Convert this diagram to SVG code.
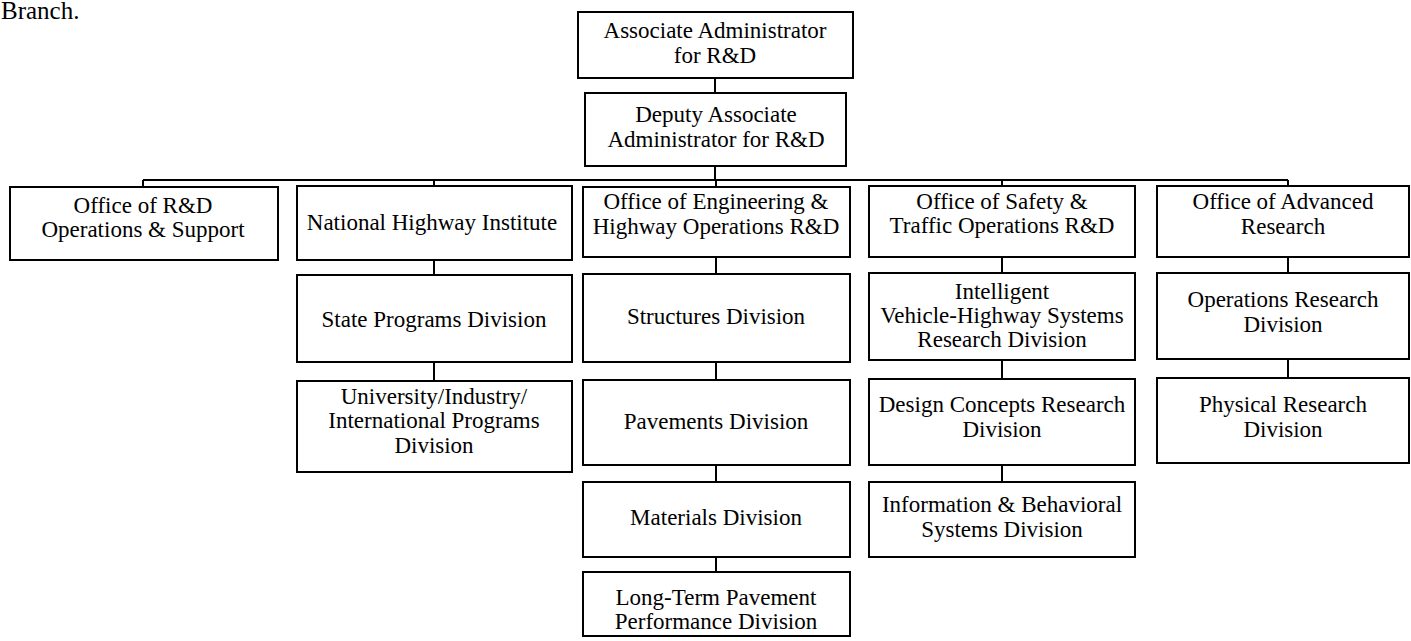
<svg xmlns="http://www.w3.org/2000/svg" width="1411" height="641" viewBox="0 0 1411 641">
  <style>
    .box { fill: #ffffff; stroke: #000000; stroke-width: 2; }
    .line { fill: none; stroke: #000000; stroke-width: 2; }
    text { font-family: "Liberation Serif", "Times New Roman", serif; font-size: 23px; fill: #000000; text-anchor: middle; }
    .body { font-size: 25px; text-anchor: start; }
  </style>
  <rect x="0" y="0" width="1411" height="641" fill="#ffffff"/>

  <text class="body" x="1" y="19">Branch.</text>

  <!-- connectors -->
  <g id="connectors">
    <path class="line" d="M715 78 V93 M715 166 V180 M143 180 H1288 M143 180 V187 M434 180 V186 M716 180 V187 M1002 180 V186 M1288 180 V186"/>
    <path class="line" d="M434 260 V275 M434 362 V381"/>
    <path class="line" d="M716 257 V274 M716 362 V380 M716 465 V482 M716 557 V572"/>
    <path class="line" d="M1002 257 V273 M1002 360 V379 M1002 465 V482"/>
    <path class="line" d="M1288 257 V273 M1288 359 V378"/>
  </g>

  <!-- top -->
  <g id="assoc-admin">
    <rect class="box" x="578" y="12" width="275" height="66"/>
    <text x="715" y="38">Associate Administrator</text>
    <text x="715" y="63">for R&amp;D</text>
  </g>
  <g id="deputy-admin">
    <rect class="box" x="585" y="93" width="261" height="73"/>
    <text x="716" y="122">Deputy Associate</text>
    <text x="716" y="147">Administrator for R&amp;D</text>
  </g>

  <!-- offices -->
  <g id="office-ops-support">
    <rect class="box" x="10" y="187" width="268" height="73"/>
    <text x="143" y="213">Office of R&amp;D</text>
    <text x="143" y="237">Operations &amp; Support</text>
  </g>
  <g id="nhi">
    <rect class="box" x="297" y="186" width="275" height="74"/>
    <text x="432" y="230">National Highway Institute</text>
  </g>
  <g id="office-engineering">
    <rect class="box" x="583" y="187" width="267" height="70"/>
    <text x="716" y="209">Office of Engineering &amp;</text>
    <text x="716" y="234">Highway Operations R&amp;D</text>
  </g>
  <g id="office-safety">
    <rect class="box" x="869" y="186" width="266" height="71"/>
    <text x="1002" y="209">Office of Safety &amp;</text>
    <text x="1002" y="233">Traffic Operations R&amp;D</text>
  </g>
  <g id="office-advanced">
    <rect class="box" x="1157" y="186" width="252" height="71"/>
    <text x="1283" y="209">Office of Advanced</text>
    <text x="1283" y="234">Research</text>
  </g>

  <!-- NHI column -->
  <g id="state-programs">
    <rect class="box" x="297" y="275" width="275" height="87"/>
    <text x="434" y="327">State Programs Division</text>
  </g>
  <g id="university-programs">
    <rect class="box" x="297" y="381" width="275" height="91"/>
    <text x="434" y="404">University/Industry/</text>
    <text x="434" y="428">International Programs</text>
    <text x="434" y="453">Division</text>
  </g>

  <!-- engineering column -->
  <g id="structures">
    <rect class="box" x="583" y="274" width="267" height="88"/>
    <text x="716" y="324">Structures Division</text>
  </g>
  <g id="pavements">
    <rect class="box" x="583" y="380" width="267" height="85"/>
    <text x="716" y="429">Pavements Division</text>
  </g>
  <g id="materials">
    <rect class="box" x="583" y="482" width="267" height="75"/>
    <text x="716" y="525">Materials Division</text>
  </g>
  <g id="ltpp">
    <rect class="box" x="583" y="572" width="267" height="64"/>
    <text x="716" y="605">Long-Term Pavement</text>
    <text x="716" y="629">Performance Division</text>
  </g>

  <!-- safety column -->
  <g id="ivhs">
    <rect class="box" x="869" y="273" width="266" height="87"/>
    <text x="1002" y="299">Intelligent</text>
    <text x="1002" y="323">Vehicle-Highway Systems</text>
    <text x="1002" y="347">Research Division</text>
  </g>
  <g id="design-concepts">
    <rect class="box" x="869" y="379" width="266" height="86"/>
    <text x="1002" y="412">Design Concepts Research</text>
    <text x="1002" y="437">Division</text>
  </g>
  <g id="info-behavioral">
    <rect class="box" x="869" y="482" width="266" height="75"/>
    <text x="1002" y="512">Information &amp; Behavioral</text>
    <text x="1002" y="537">Systems Division</text>
  </g>

  <!-- advanced research column -->
  <g id="operations-research">
    <rect class="box" x="1157" y="273" width="252" height="86"/>
    <text x="1283" y="307">Operations Research</text>
    <text x="1283" y="332">Division</text>
  </g>
  <g id="physical-research">
    <rect class="box" x="1157" y="378" width="252" height="85"/>
    <text x="1283" y="412">Physical Research</text>
    <text x="1283" y="437">Division</text>
  </g>
</svg>
